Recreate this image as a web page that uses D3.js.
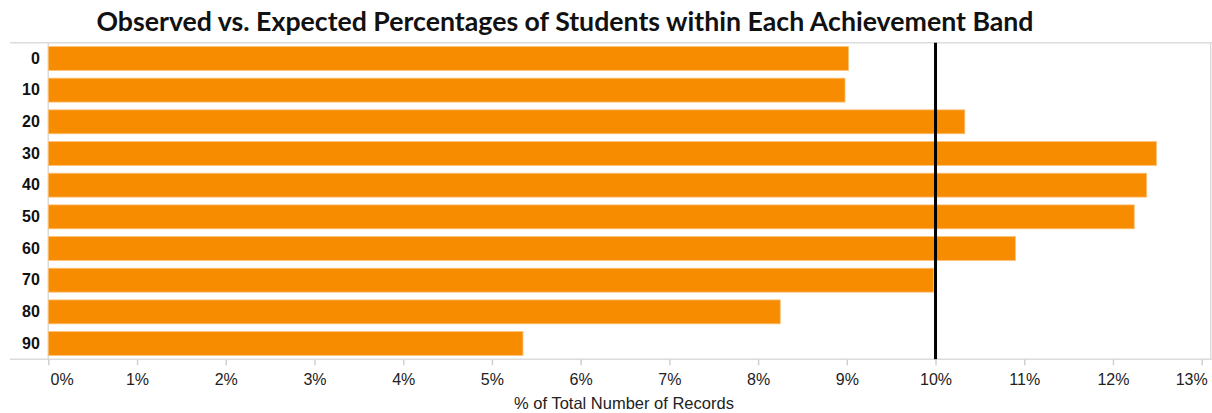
<!DOCTYPE html>
<html>
<head>
<meta charset="utf-8">
<script src="https://cdn.jsdelivr.net/npm/d3@7"></script>
<style>
  html, body { margin: 0; padding: 0; background: #fff; }
  svg { display: block; }
</style>
</head>
<body>
<svg id="chart" width="1212" height="413"></svg>
<script>
// Achievement bands and the observed share of students in each (percent)
const bands = ["0", "10", "20", "30", "40", "50", "60", "70", "80", "90"];
const observedPct = [9.02, 8.98, 10.33, 12.49, 12.38, 12.24, 10.90, 9.98, 8.25, 5.35];
// Expected share if students were spread evenly over the ten bands
const expectedPct = 10;
const xTicks = [0, 1, 2, 3, 4, 5, 6, 7, 8, 9, 10, 11, 12, 13];

const svg = d3.select("#chart");
const W = 1212, H = 413;
const plot = { left: 48.3, right: 1210.7, top: 42.7, bottom: 359.3 };

const x = d3.scaleLinear().domain([0, 13]).range([plot.left, 1201.7]);
const y = d3.scaleBand().domain(bands).range([plot.top, plot.bottom])
  .paddingInner(0.245).paddingOuter(0.12);

// Title
svg.append("text")
  .attr("x", 565).attr("y", 30.5)
  .attr("text-anchor", "middle")
  .attr("font-family", "Lato, 'Open Sans', sans-serif")
  .attr("font-weight", "bold")
  .attr("font-size", 26.7)
  .attr("fill", "#111")
  .text("Observed vs. Expected Percentages of Students within Each Achievement Band");

// Frame lines
const frame = svg.append("g").attr("stroke", "#dcdcdc").attr("stroke-width", 1.5);
frame.append("line").attr("x1", 10).attr("x2", W).attr("y1", plot.top).attr("y2", plot.top);
frame.append("line").attr("x1", 10).attr("x2", W).attr("y1", plot.bottom).attr("y2", plot.bottom);
frame.append("line").attr("x1", plot.left).attr("x2", plot.left).attr("y1", plot.top).attr("y2", plot.bottom);
frame.append("line").attr("x1", plot.right).attr("x2", plot.right).attr("y1", plot.top).attr("y2", plot.bottom);

// Bars
svg.append("g").selectAll("rect")
  .data(bands.map((b, i) => ({ band: b, value: observedPct[i] })))
  .join("rect")
  .attr("x", x(0))
  .attr("y", d => y(d.band))
  .attr("width", d => x(d.value) - x(0))
  .attr("height", y.bandwidth())
  .attr("fill", "#f78c00")
  .attr("stroke", "#fbc27a")
  .attr("stroke-width", 0.8);

// Expected-share reference line
svg.append("line")
  .attr("x1", x(expectedPct)).attr("x2", x(expectedPct))
  .attr("y1", plot.top).attr("y2", plot.bottom)
  .attr("stroke", "#000").attr("stroke-width", 3);

// Band labels
const yAxis = svg.append("g")
  .attr("transform", `translate(${plot.left - 8.5},0)`)
  .call(d3.axisLeft(y).tickSize(0).tickPadding(0));
yAxis.select(".domain").remove();
yAxis.selectAll("text")
  .attr("font-family", "'Liberation Sans', Arial, sans-serif")
  .attr("font-weight", "bold")
  .attr("font-size", 16)
  .attr("fill", "#111");

// Percentage axis
const xAxis = svg.append("g")
  .attr("transform", `translate(0,${plot.bottom})`)
  .call(d3.axisBottom(x).tickValues(xTicks).tickFormat(d => d + "%").tickSize(6).tickPadding(8));
xAxis.select(".domain").remove();
xAxis.selectAll(".tick line").attr("stroke", "#d0d0d0").attr("stroke-width", 1.5);
xAxis.selectAll("text")
  .attr("font-family", "'Liberation Sans', Arial, sans-serif")
  .attr("font-size", 16)
  .attr("fill", "#222");
// keep the first and last tick labels inside the plot's span
xAxis.selectAll(".tick").filter(d => d === 0).select("text")
  .attr("text-anchor", "start").attr("x", 1.7);
xAxis.selectAll(".tick").filter(d => d === 13).select("text")
  .attr("text-anchor", "end").attr("x", 5.5);

// Axis title
svg.append("text")
  .attr("x", 624).attr("y", 409)
  .attr("text-anchor", "middle")
  .attr("font-family", "'Liberation Sans', Arial, sans-serif")
  .attr("font-size", 16.5)
  .attr("fill", "#222")
  .text("% of Total Number of Records");
</script>
</body>
</html>
